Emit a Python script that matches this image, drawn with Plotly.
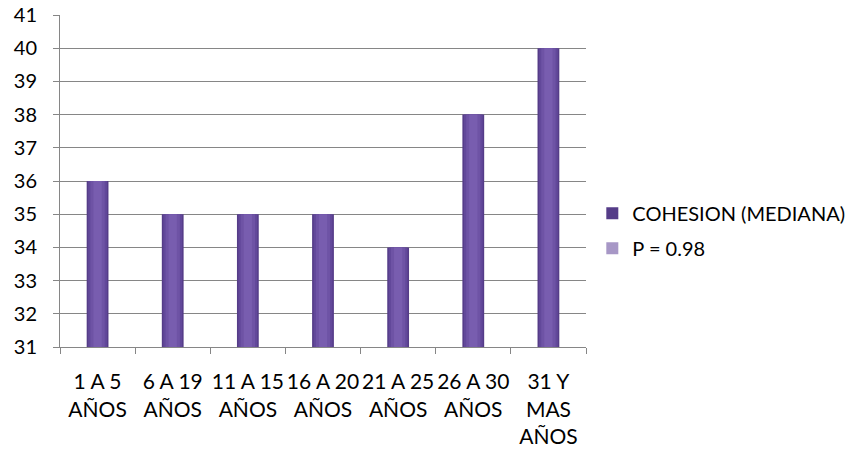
import plotly.graph_objects as go

# Cohesion median by years-of-service group
categories = ["1 A 5<br>AÑOS", "6 A 19<br>AÑOS", "11 A 15<br>AÑOS", "16 A 20<br>AÑOS",
              "21 A 25<br>AÑOS", "26 A 30<br>AÑOS", "31 Y<br>MAS<br>AÑOS"]
cohesion_median = [36, 35, 35, 35, 34, 38, 40]
series_names = ["COHESION (MEDIANA)", "P = 0.98"]
y_ticks = list(range(31, 42))

FONT = "Lato"

fig = go.Figure()

# Shaded bar: stacked overlays of narrowing width give a rounded look
layers = [(0.29, "#553c88"), (0.25, "#62489a"), (0.19, "#6e53a5"), (0.11, "#785daf")]
for i, (w, c) in enumerate(layers):
    fig.add_trace(go.Bar(
        x=categories, y=cohesion_median, width=w,
        marker=dict(color=c, line=dict(width=0)),
        name=series_names[0], showlegend=(i == 0), legendgroup="a",
        hoverinfo="skip" if i else None,
    ))

# Second series only appears in the legend
fig.add_trace(go.Bar(
    x=categories, y=[None] * len(categories), name=series_names[1],
    marker=dict(color="#a797c6", line=dict(width=0)), legendgroup="b",
))

fig.update_layout(
    barmode="overlay",
    width=854, height=451,
    margin=dict(l=60, r=268, t=15, b=104, autoexpand=False),
    paper_bgcolor="white", plot_bgcolor="white",
    font=dict(family=FONT, size=20, color="#000000"),
    showlegend=True,
    legend=dict(x=1.012, xanchor="left", y=0.35, yanchor="middle",
                font=dict(family=FONT, size=20, color="#000000"),
                tracegroupgap=6, bgcolor="rgba(0,0,0,0)"),
    xaxis=dict(
        showline=True, linecolor="#868686", linewidth=1,
        ticks="outside", tickson="boundaries", ticklen=6, tickcolor="#868686",
        showgrid=False, tickangle=0, automargin=False,
        tickfont=dict(family=FONT, size=21), ticklabelstandoff=16,
    ),
    yaxis=dict(
        range=[31, 41], tickvals=y_ticks, automargin=False,
        showline=True, linecolor="#868686", linewidth=1,
        ticks="outside", ticklen=6, tickcolor="#868686",
        showgrid=True, gridcolor="#868686", gridwidth=1,
        zeroline=False, ticklabelstandoff=12,
        tickfont=dict(family=FONT, size=20),
    ),
)

fig.write_html("out.html")
